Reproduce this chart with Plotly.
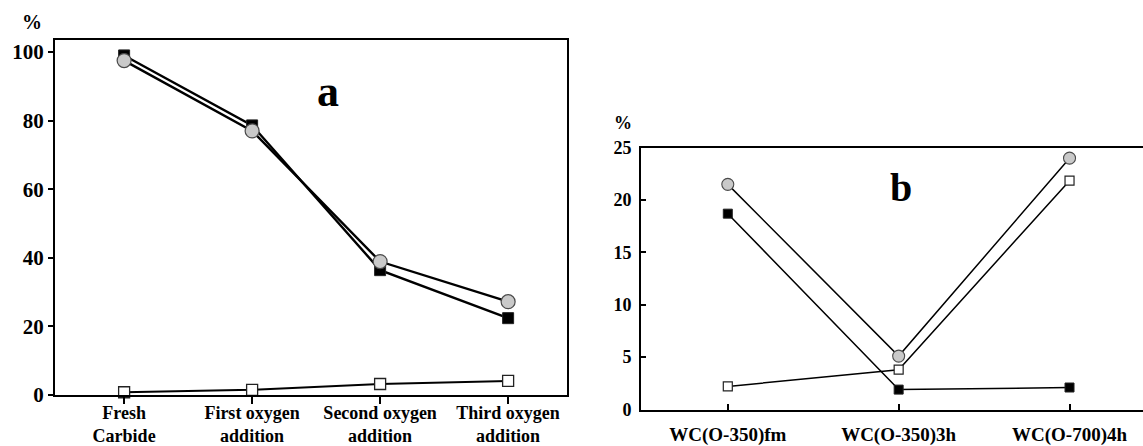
import plotly.graph_objects as go

# ---- Panel a: oxidation sequence ----
categories_a = ["Fresh<br>Carbide", "First oxygen<br>addition",
                "Second oxygen<br>addition", "Third oxygen<br>addition"]
black_sq_a = [99.0, 78.6, 36.4, 22.4]
gray_circ_a = [97.5, 77.0, 38.9, 27.2]
open_sq_a = [0.8, 1.5, 3.2, 4.1]
yticks_a = [0, 20, 40, 60, 80, 100]

# ---- Panel b: catalyst samples ----
categories_b = ["WC(O-350)fm", "WC(O-350)3h", "WC(O-700)4h"]
gray_circ_b = [21.5, 5.1, 24.0]
black_sq_b = [18.7, 1.9, 2.1]
open_sq_b = [2.2, 3.8, 21.85]
yticks_b = [0, 5, 10, 15, 20, 25]

SERIF = "Liberation Serif"
CIRCLE_FILL = "#c9c9c9"

fig = go.Figure()


def add_series(xs, ys, xa, ya, symbol, size, fill, lw, mlw):
    fig.add_trace(go.Scatter(
        x=xs, y=ys, xaxis=xa, yaxis=ya, mode="lines+markers",
        line=dict(color="black", width=lw),
        marker=dict(symbol=symbol, size=size, color=fill,
                    line=dict(color="#222" if symbol != "circle" else "#4a4a4a", width=mlw)),
        showlegend=False, cliponaxis=False,
    ))


# panel a traces
add_series(categories_a, open_sq_a, "x", "y", "square", 11, "white", 2.0, 1.3)
add_series(categories_a, black_sq_a, "x", "y", "square", 11, "black", 2.4, 1)
add_series(categories_a, gray_circ_a, "x", "y", "circle", 14, CIRCLE_FILL, 2.4, 1.2)

# panel b traces
add_series(categories_b, open_sq_b, "x2", "y2", "square", 9, "white", 1.5, 1.2)
add_series(categories_b, black_sq_b, "x2", "y2", "square", 9, "black", 1.5, 1)
add_series(categories_b, gray_circ_b, "x2", "y2", "circle", 12, CIRCLE_FILL, 1.5, 1.1)

W, H = 1143, 446


def px_x(p):
    return p / W


def px_y(p):
    return 1 - p / H


def bold(size):
    return dict(family=SERIF, size=size, color="black", weight=700)


fig.update_layout(
    template="none",
    width=W, height=H,
    margin=dict(l=0, r=0, t=0, b=0, pad=0),
    paper_bgcolor="white", plot_bgcolor="white",
    xaxis=dict(
        domain=[px_x(55), px_x(567)], anchor="y", automargin=False,
        type="category", categoryorder="array", categoryarray=categories_a,
        range=[-0.54, 3.46],
        showline=True, linecolor="black", linewidth=2, mirror=True,
        ticks="outside", ticklen=7, tickwidth=1.5, tickcolor="black",
        ticklabelstandoff=-7,
        tickfont=bold(18), showgrid=False, zeroline=False,
    ),
    yaxis=dict(
        domain=[px_y(395), px_y(40)], anchor="x", automargin=False,
        range=[0, 103.5], tickvals=yticks_a,
        showline=True, linecolor="black", linewidth=2, mirror=True,
        ticks="outside", ticklen=5, tickwidth=1.5, tickcolor="black",
        tickfont=bold(21), showgrid=False, zeroline=False,
    ),
    xaxis2=dict(
        domain=[px_x(641), 1.0], anchor="y2", automargin=False,
        type="category", categoryorder="array", categoryarray=categories_b,
        range=[-0.508, 2.43],
        showline=True, linecolor="black", linewidth=2, mirror=True,
        ticks="inside", ticklen=6, tickwidth=1.5, tickcolor="black",
        ticklabelstandoff=7,
        tickfont=bold(19), showgrid=False, zeroline=False,
    ),
    yaxis2=dict(
        domain=[px_y(409.5), px_y(147.7)], anchor="x2", automargin=False,
        range=[0, 25], tickvals=yticks_b,
        showline=True, linecolor="black", linewidth=2, mirror=False,
        ticks="inside", ticklen=5, tickwidth=1.5, tickcolor="black",
        ticklabelstandoff=4,
        tickfont=bold(18), showgrid=False, zeroline=False,
    ),
    annotations=[
        dict(text="%", x=px_x(32), y=px_y(22), xref="paper", yref="paper",
             xanchor="center", yanchor="middle",
             showarrow=False, font=bold(20)),
        dict(text="%", x=px_x(623), y=px_y(123), xref="paper", yref="paper",
             xanchor="center", yanchor="middle",
             showarrow=False, font=bold(18)),
        dict(text="a", x=px_x(328), y=px_y(91), xref="paper", yref="paper",
             xanchor="center", yanchor="middle",
             showarrow=False, font=bold(44)),
        dict(text="b", x=px_x(901), y=px_y(187), xref="paper", yref="paper",
             xanchor="center", yanchor="middle",
             showarrow=False, font=bold(40)),
    ],
)

fig.write_html("out.html")
